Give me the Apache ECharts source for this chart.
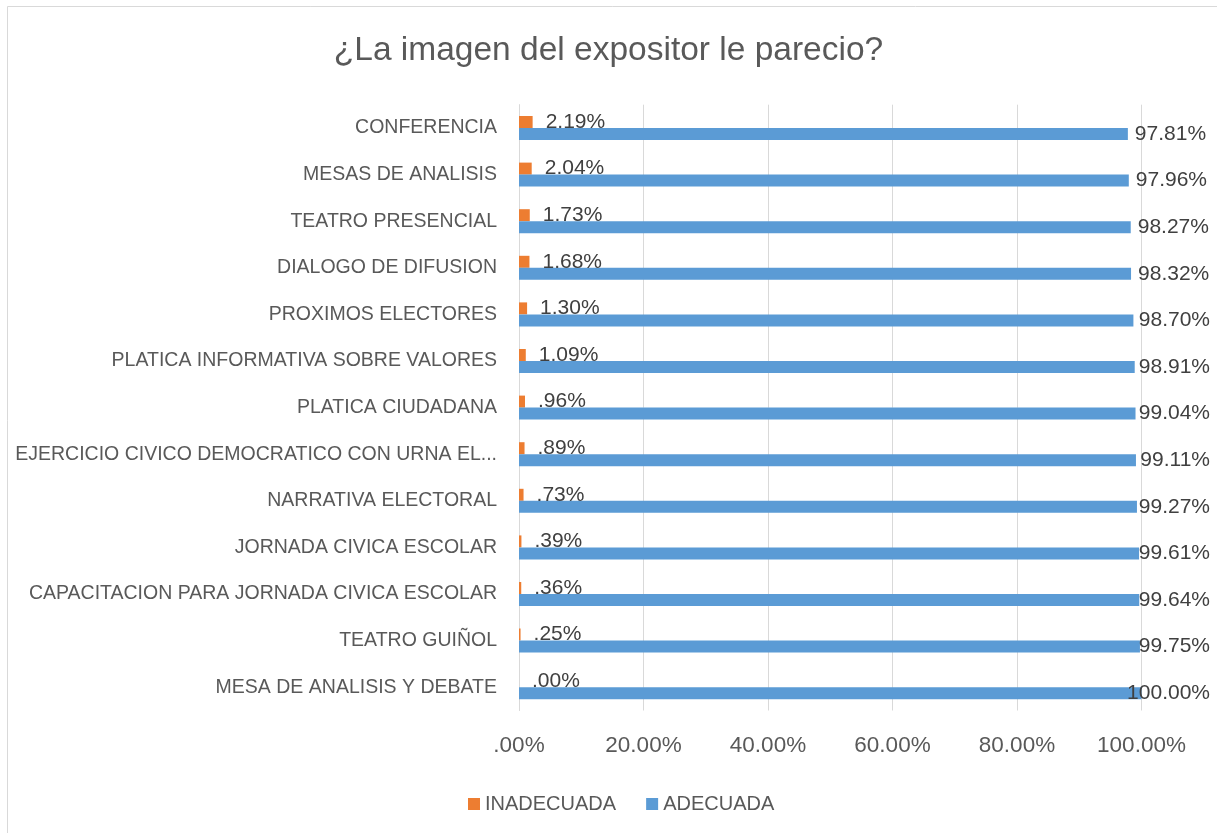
<!DOCTYPE html>
<html>
<head>
<meta charset="utf-8">
<script src="https://cdn.jsdelivr.net/npm/echarts@6/dist/echarts.min.js"></script>
<style>
  html, body { margin: 0; padding: 0; background: #fff; }
  #main { width: 1217px; height: 833px; }
</style>
</head>
<body>
<div id="main"></div>
<script>
// categorias de arriba hacia abajo
var categorias = [
    'CONFERENCIA',
    'MESAS DE ANALISIS',
    'TEATRO PRESENCIAL',
    'DIALOGO DE DIFUSION',
    'PROXIMOS ELECTORES',
    'PLATICA INFORMATIVA SOBRE VALORES',
    'PLATICA CIUDADANA',
    'EJERCICIO CIVICO DEMOCRATICO CON URNA ELECTRONICA',
    'NARRATIVA ELECTORAL',
    'JORNADA CIVICA ESCOLAR',
    'CAPACITACION PARA JORNADA CIVICA ESCOLAR',
    'TEATRO GUIÑOL',
    'MESA DE ANALISIS Y DEBATE'
];
var inadecuada = [2.19, 2.04, 1.73, 1.68, 1.30, 1.09, 0.96, 0.89, 0.73, 0.39, 0.36, 0.25, 0.00];
var adecuada = [97.81, 97.96, 98.27, 98.32, 98.70, 98.91, 99.04, 99.11, 99.27, 99.61, 99.64, 99.75, 100.00];

var fuente = '"Liberation Sans", Arial, sans-serif';

// formato de Excel ".00%"
function pct(v) {
    var s = Number(v).toFixed(2);
    if (s.indexOf('0.') === 0) s = s.substring(1);
    return s + '%';
}

var myChart = echarts.init(document.getElementById('main'));

var option = {
    backgroundColor: '#fff',
    textStyle: { fontFamily: fuente },
    title: {
        text: '¿La imagen del expositor le parecio?',
        left: 'center',
        top: 29,
        textStyle: { fontFamily: fuente, fontSize: 33.5, fontWeight: 'normal', color: '#595959' }
    },
    graphic: [{
        type: 'rect',
        shape: { x: 7.5, y: 6.5, width: 1215, height: 830 },
        style: { fill: 'none', stroke: '#d9d9d9', lineWidth: 1 },
        silent: true
    }],
    legend: {
        data: ['INADECUADA', 'ADECUADA'],
        left: 463,
        top: 789,
        itemWidth: 12,
        itemHeight: 12,
        itemGap: 30,
        icon: 'rect',
        textStyle: { fontFamily: fuente, fontSize: 20, color: '#595959' }
    },
    grid: { left: 519, right: 75.5, top: 104.7, bottom: 122.5, containLabel: false },
    xAxis: {
        type: 'value',
        min: 0,
        max: 100,
        interval: 20,
        axisLine: { show: false },
        axisTick: { show: false },
        splitLine: { lineStyle: { color: '#d9d9d9', width: 1 } },
        axisLabel: {
            margin: 24,
            fontSize: 22.5,
            color: '#595959',
            fontFamily: fuente,
            formatter: pct
        }
    },
    yAxis: {
        type: 'category',
        data: categorias,
        inverse: true,
        axisLine: { show: true, lineStyle: { color: '#d9d9d9' } },
        axisTick: { show: false },
        axisLabel: {
            margin: 22,
            fontSize: 19.5,
            color: '#595959',
            fontFamily: fuente,
            width: 492,
            overflow: 'truncate',
            ellipsis: '...'
        }
    },
    series: [{
        name: 'INADECUADA',
        type: 'bar',
        data: inadecuada,
        barWidth: 12,
        barGap: '0%',
        itemStyle: { color: '#ED7D31' },
        label: {
            show: true,
            position: 'right',
            distance: 13,
            fontSize: 21,
            color: '#404040',
            fontFamily: fuente,
            formatter: function (p) { return pct(p.value); }
        }
    }, {
        name: 'ADECUADA',
        type: 'bar',
        data: adecuada,
        barWidth: 12,
        barGap: '0%',
        itemStyle: { color: '#5B9BD5' },
        label: {
            show: true,
            position: 'right',
            distance: 7,
            fontSize: 21,
            color: '#404040',
            fontFamily: fuente,
            formatter: function (p) { return pct(p.value); }
        },
        // Excel empuja las etiquetas hacia dentro del borde derecho
        labelLayout: function (params) {
            var r = params.labelRect;
            if (r.x + r.width > 1210) {
                return { x: 1210 - r.width, y: r.y, align: 'left', verticalAlign: 'top' };
            }
            return {};
        }
    }]
};

myChart.setOption(option);
</script>
</body>
</html>
